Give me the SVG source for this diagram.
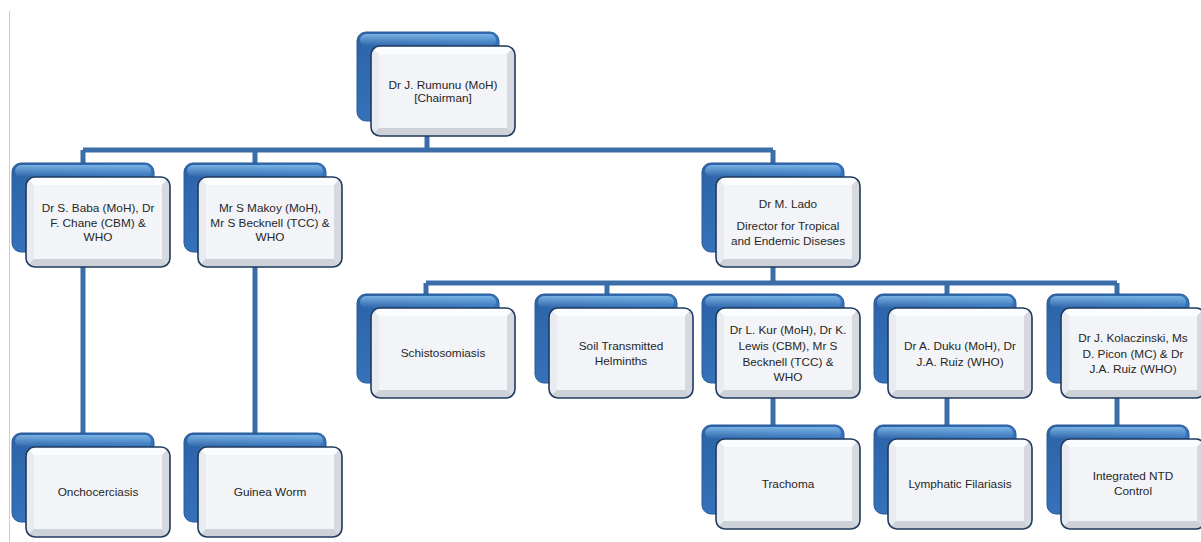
<svg xmlns="http://www.w3.org/2000/svg" xmlns:xlink="http://www.w3.org/1999/xlink" width="1201" height="542" viewBox="0 0 1201 542">
<style>
.conn{stroke:#3b6ea8;stroke-width:5;fill:none}
.lbl{font-family:"Liberation Sans",Arial,sans-serif;font-size:11.8px;fill:#262626;text-anchor:middle}
</style>
<defs>
<linearGradient id="blueG" x1="0" y1="0" x2="1" y2="1">
<stop offset="0" stop-color="#2c62a6"/>
<stop offset="0.6" stop-color="#3674bc"/>
<stop offset="1" stop-color="#4d93d8"/>
</linearGradient>
<linearGradient id="blueHi" x1="0" y1="0" x2="0" y2="1">
<stop offset="0" stop-color="#8cc4f0" stop-opacity="0.8"/>
<stop offset="1" stop-color="#8cc4f0" stop-opacity="0"/>
</linearGradient>
<clipPath id="fclip"><rect x="14" y="14" width="144" height="90" rx="9"/></clipPath>
<g id="card">
<rect x="0" y="0" width="142" height="89" rx="9" fill="url(#blueG)" stroke="#2a5a98" stroke-width="1"/>
<rect x="3" y="2" width="136" height="12" rx="6" fill="url(#blueHi)"/>
<g clip-path="url(#fclip)">
<rect x="14" y="14" width="144" height="90" fill="#eef1f6"/>
<polygon points="14,14 158,14 150,22 22,22" fill="#fbfcfe"/>
<polygon points="14,14 22,22 22,96 14,104" fill="#e8ebf0"/>
<polygon points="158,14 158,104 150,96 150,22" fill="#d6dae0"/>
<polygon points="14,104 22,96 150,96 158,104" fill="#cdd2d9"/>
<rect x="22" y="22" width="128" height="74" fill="#f2f4f8"/>
</g>
<rect x="14" y="14" width="144" height="90" rx="9" fill="none" stroke="#1f3a5c" stroke-width="1.6"/>
</g>
</defs>
<line x1="9.5" y1="11" x2="9.5" y2="542" stroke="#cccccc" stroke-width="1"/>
<g id="connectors">
<path class="conn" d="M427,100 V150 M83,150 H773 M83,150 V170 M255,150 V170 M773,150 V170"/>
<path class="conn" d="M83,250 V440 M255,250 V440"/>
<path class="conn" d="M773,250 V283 M426,283 H1117 M426,283 V300 M607,283 V300 M947,283 V300 M1117,283 V300"/>
<path class="conn" d="M773,380 V430 M947,380 V430 M1117,380 V430"/>
</g>
<g id="n-rumunu"><use xlink:href="#card" x="357" y="32"/>
<text class="lbl" x="443" y="89">Dr J. Rumunu (MoH)</text><text class="lbl" x="443" y="102">[Chairman]</text></g>
<g id="n-baba"><use xlink:href="#card" x="12" y="163"/>
<text class="lbl" x="98" y="212">Dr S. Baba (MoH), Dr</text><text class="lbl" x="98" y="226.5">F. Chane (CBM) &amp;</text><text class="lbl" x="98" y="241">WHO</text></g>
<g id="n-makoy"><use xlink:href="#card" x="184" y="163"/>
<text class="lbl" x="270" y="212">Mr S Makoy (MoH),</text><text class="lbl" x="270" y="226.5">Mr S Becknell (TCC) &amp;</text><text class="lbl" x="270" y="241">WHO</text></g>
<g id="n-lado"><use xlink:href="#card" x="702" y="163"/>
<text class="lbl" x="788" y="208">Dr M. Lado</text><text class="lbl" x="788" y="230">Director for Tropical</text><text class="lbl" x="788" y="245">and Endemic Diseses</text></g>
<g id="n-schisto"><use xlink:href="#card" x="357" y="294"/>
<text class="lbl" x="443" y="357">Schistosomiasis</text></g>
<g id="n-soil"><use xlink:href="#card" x="535" y="294"/>
<text class="lbl" x="621" y="350">Soil Transmitted</text><text class="lbl" x="621" y="365">Helminths</text></g>
<g id="n-kur"><use xlink:href="#card" x="702" y="294"/>
<text class="lbl" x="788" y="334">Dr L. Kur (MoH), Dr K.</text><text class="lbl" x="788" y="350">Lewis (CBM), Mr  S</text><text class="lbl" x="788" y="366">Becknell (TCC) &amp;</text><text class="lbl" x="788" y="381">WHO</text></g>
<g id="n-duku"><use xlink:href="#card" x="874" y="294"/>
<text class="lbl" x="960" y="350">Dr A. Duku (MoH), Dr</text><text class="lbl" x="960" y="366">J.A. Ruiz (WHO)</text></g>
<g id="n-kolac"><use xlink:href="#card" x="1047" y="294"/>
<text class="lbl" x="1133" y="342">Dr J. Kolaczinski, Ms</text><text class="lbl" x="1133" y="358">D. Picon (MC) &amp; Dr</text><text class="lbl" x="1133" y="373">J.A. Ruiz (WHO)</text></g>
<g id="n-oncho"><use xlink:href="#card" x="12" y="433"/>
<text class="lbl" x="98" y="496">Onchocerciasis</text></g>
<g id="n-guinea"><use xlink:href="#card" x="184" y="433"/>
<text class="lbl" x="270" y="496">Guinea Worm</text></g>
<g id="n-trachoma"><use xlink:href="#card" x="702" y="425"/>
<text class="lbl" x="788" y="488">Trachoma</text></g>
<g id="n-lymph"><use xlink:href="#card" x="874" y="425"/>
<text class="lbl" x="960" y="488">Lymphatic Filariasis</text></g>
<g id="n-integrated"><use xlink:href="#card" x="1047" y="425"/>
<text class="lbl" x="1133" y="480">Integrated NTD</text><text class="lbl" x="1133" y="495">Control</text></g>
</svg>
